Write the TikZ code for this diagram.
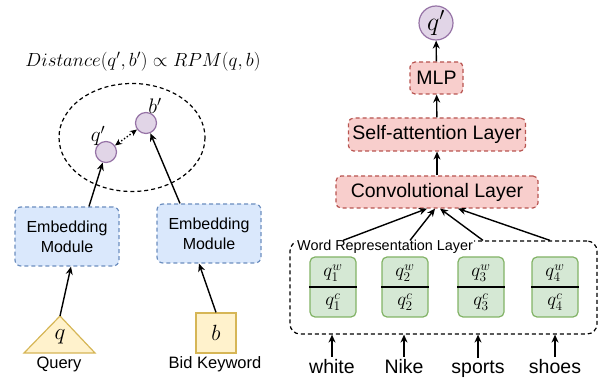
\RequirePackage{fix-cm}
\documentclass[tikz,border=0pt]{standalone}
\usepackage{amsmath}
\usepackage{fontspec}
\setmainfont{Liberation Sans}
\usepackage{tikz}
\usetikzlibrary{positioning, arrows.meta, shapes.geometric, calc}
\definecolor{embfill}{HTML}{DAE8FC}
\definecolor{embline}{HTML}{6C8EBF}
\definecolor{layfill}{HTML}{F8CECC}
\definecolor{layline}{HTML}{B85450}
\definecolor{wrdfill}{HTML}{D5E8D4}
\definecolor{wrdline}{HTML}{82B366}
\definecolor{inpfill}{HTML}{FFF2CC}
\definecolor{inpline}{HTML}{D6B656}
\definecolor{vecfill}{HTML}{E1D5E7}
\definecolor{vecline}{HTML}{9673A6}

\begin{document}
\begin{tikzpicture}[x=1pt, y=-1pt,
    arr/.style={-{Stealth[length=8pt, width=7pt]}, line width=1.4pt},
    dashline/.style={dash pattern=on 4pt off 3pt, line width=1.2pt},
    embbox/.style={dashline, draw=embline, fill=embfill, rounded corners=6pt, minimum width=104pt, minimum height=59pt, align=center, font=\fontsize{16}{20}\selectfont},
    laybox/.style={dashline, draw=layline, fill=layfill, rounded corners=5pt, minimum height=32pt, inner sep=0pt, font=\fontsize{19.5}{22}\selectfont},
    wordbox/.style={draw=wrdline, fill=wrdfill, line width=1.2pt, rounded corners=5pt, minimum width=46pt, minimum height=60pt},
    wordvar/.style={inner sep=0pt, font=\fontsize{19}{20}\selectfont},
    vec/.style={circle, draw=vecline, fill=vecfill, line width=1.2pt, minimum size=21pt, inner sep=0pt},
    word/.style={font=\fontsize{19.5}{22}\selectfont, anchor=base, inner sep=2pt},
    lbl/.style={font=\fontsize{16.5}{20}\selectfont}]
    \useasboundingbox (0,0) rectangle (605,379);

    % Titre
    \node[font=\fontsize{19}{22}\selectfont] (title) at (143,62) {$Distance(q',b')\propto RPM(q,b)$};

    % === ESPACE D'EMBEDDING ===
    \draw[dashline, black] (132,137.5) ellipse (73 and 54);
    \node[vec] (qp) at (106,152) {};
    \node[vec] (bp) at (146,123) {};
    \node[font=\fontsize{21}{22}\selectfont] (qplbl) at (98,136) {$q'$};
    \node[font=\fontsize{21}{22}\selectfont] (bplbl) at (155,106) {$b'$};
    \draw[{Stealth[length=7pt, width=6pt]}-{Stealth[length=7pt, width=6pt]}, line width=1.4pt, dotted] (qp) -- (bp);

    % Modules d'embedding
    \node[embbox] (emb1) at (67,236.5) {Embedding\\Module};
    \node[embbox] (emb2) at (209,233.5) {Embedding\\Module};

    % Query (triangle)
    \coordinate (qapex) at (60,316);
    \draw[draw=inpline, fill=inpfill, line width=1.2pt] (qapex) -- (95,353) -- (24,353) -- cycle;
    \node[font=\fontsize{23}{24}\selectfont] (qin) at (60,337) {$q$};
    \node[lbl] (qlbl) at (59,364) {Query};

    % Bid Keyword (carre)
    \node[draw=inpline, fill=inpfill, line width=1.2pt, minimum size=40pt, inner sep=0pt, font=\fontsize{22}{24}\selectfont] (bin) at (216,333) {$b$};
    \node[lbl] (blbl) at (215,364) {Bid Keyword};

    % Fleches gauche
    \draw[arr] (qapex) -- ($(emb1.south)+(4,0)$);
    \draw[arr] (bin.north) -- ($(emb2.south)+(-10,0)$);
    \draw[arr] ($(emb1.north)+(22,0)$) -- (qp);
    \draw[arr] ($(emb2.north)+(-29,0)$) -- (bp);

    % === ENCODEUR DE REQUETE ===
    \node[vec, minimum size=34pt, font=\fontsize{26}{28}\selectfont] (qout) at (436,23) {$q'$};
    \node[laybox, minimum width=53pt] (mlp) at (436.5,78) {MLP};
    \node[laybox, minimum width=177pt, minimum height=33pt] (satt) at (437,134.5) {Self-attention Layer};
    \node[laybox, minimum width=202pt] (conv) at (437,192) {Convolutional Layer};
    \draw[arr] (mlp) -- (qout);
    \draw[arr] (satt) -- (mlp);
    \draw[arr] (conv) -- (satt);

    % Couche de representation des mots
    \node[draw, dashline, rounded corners=10pt, minimum width=307pt, minimum height=93pt] (wrl) at (443.5,287.5) {};
    \node[fill=white, inner sep=1pt, anchor=west, font=\fontsize{14.4}{16}\selectfont] (wrllbl) at (296,247) {Word Representation Layer};

    \node[wordbox] (w1) at (333,287) {};
    \node[wordbox] (w2) at (405,287) {};
    \node[wordbox] (w3) at (481,287) {};
    \node[wordbox] (w4) at (555,287) {};
    \draw[line width=1.2pt] (w1.west) -- (w1.east);
    \draw[line width=1.2pt] (w2.west) -- (w2.east);
    \draw[line width=1.2pt] (w3.west) -- (w3.east);
    \draw[line width=1.2pt] (w4.west) -- (w4.east);
    \node[wordvar] (w1a) at (333,273) {$q^w_1$};
    \node[wordvar] (w1b) at (333,302) {$q^c_1$};
    \node[wordvar] (w2a) at (405,273) {$q^w_2$};
    \node[wordvar] (w2b) at (405,302) {$q^c_2$};
    \node[wordvar] (w3a) at (481,273) {$q^w_3$};
    \node[wordvar] (w3b) at (481,302) {$q^c_3$};
    \node[wordvar] (w4a) at (555,273) {$q^w_4$};
    \node[wordvar] (w4b) at (555,302) {$q^c_4$};

    % Mots d'entree
    \node[word] (white) at (332,373) {white};
    \node[word] (nike) at (404,373) {Nike};
    \node[word] (sports) at (478,373) {sports};
    \node[word] (shoes) at (555,373) {shoes};
    \draw[arr] (white.north) -- (white.north |- wrl.south);
    \draw[arr] (nike.north) -- (nike.north |- wrl.south);
    \draw[arr] (sports.north) -- (sports.north |- wrl.south);
    \draw[arr] (shoes.north) -- (shoes.north |- wrl.south);

    % Fleches vers la couche convolutive
    \draw[arr] ($(w1 |- wrl.north)+(10,0)$) -- ($(conv.south)+(-10,0)$);
    \draw[arr] ($(w2 |- wrl.north)+(5,0)$) -- ($(conv.south)+(-2,0)$);
    \draw[arr] ($(w3 |- wrl.north)+(2,0)$) -- ($(conv.south)+(3,0)$);
    \draw[arr] ($(w4 |- wrl.north)+(-5,0)$) -- ($(conv.south)+(21,0)$);
\end{tikzpicture}
\end{document}
